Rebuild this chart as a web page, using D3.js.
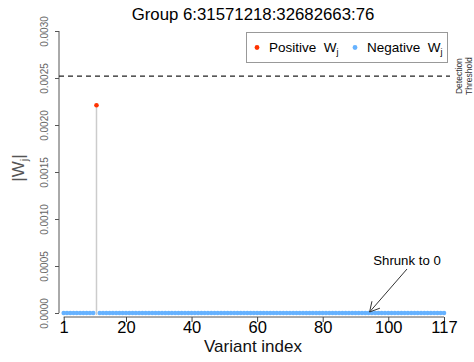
<!DOCTYPE html>
<html>
<head>
<meta charset="utf-8">
<script src="https://cdn.jsdelivr.net/npm/d3@7"></script>
<style>
  html, body { margin: 0; padding: 0; background: #fff; }
  svg { display: block; font-family: "Liberation Sans", Arial, Helvetica, sans-serif; }
</style>
</head>
<body>
<svg id="chart" width="474" height="362"></svg>
<script>
// |W_j| statistic for each of the 117 variants in the group
const absW = [
  0, 0, 0, 0, 0, 0, 0, 0, 0, 0,
  0.00221, 0, 0, 0, 0, 0, 0, 0, 0, 0,
  0, 0, 0, 0, 0, 0, 0, 0, 0, 0,
  0, 0, 0, 0, 0, 0, 0, 0, 0, 0,
  0, 0, 0, 0, 0, 0, 0, 0, 0, 0,
  0, 0, 0, 0, 0, 0, 0, 0, 0, 0,
  0, 0, 0, 0, 0, 0, 0, 0, 0, 0,
  0, 0, 0, 0, 0, 0, 0, 0, 0, 0,
  0, 0, 0, 0, 0, 0, 0, 0, 0, 0,
  0, 0, 0, 0, 0, 0, 0, 0, 0, 0,
  0, 0, 0, 0, 0, 0, 0, 0, 0, 0,
  0, 0, 0, 0, 0, 0, 0
];
// variants whose W_j is positive (all others negative / zero)
const positiveIdx = [11];
const threshold = 0.00252;
const xTicks = [1, 20, 40, 60, 80, 100, 117];
const yTicks = [0, 0.0005, 0.001, 0.0015, 0.002, 0.0025, 0.003];
const titleText = "Group 6:31571218:32682663:76";
const shrunkIndex = 94;

const colPos = "#ff3300";
const colNeg = "#66b2ff";

const svg = d3.select("#chart");
const x = d3.scaleLinear().domain([1, 117]).range([63.7, 444]);
const y = d3.scaleLinear().domain([0, 0.003]).range([313, 31]);
const axisY = 317;

const data = absW.map((v, i) => ({ idx: i + 1, v, pos: positiveIdx.includes(i + 1) }));

// title
svg.append("text").attr("x", 253).attr("y", 20).attr("text-anchor", "middle")
  .attr("font-size", 16.8).attr("fill", "#000").text(titleText);

// y axis
const gy = svg.append("g").attr("transform", "translate(59,0)")
  .call(d3.axisLeft(y).tickValues(yTicks).tickSize(4).tickFormat(d3.format(".4f")));
gy.select(".domain").attr("stroke", "#555").attr("d", `M-0,${y(0)}V${y(0.003)}`);
gy.selectAll(".tick line").attr("stroke", "#555");
gy.selectAll(".tick text")
  .attr("x", null).attr("dy", null).attr("font-size", 10).attr("fill", "#666")
  .attr("font-family", "Liberation Sans, Arial, sans-serif")
  .attr("text-anchor", "middle")
  .attr("transform", "translate(-11,0) rotate(-90)");

// x axis
const gx = svg.append("g").attr("transform", `translate(0,${axisY})`)
  .call(d3.axisBottom(x).tickValues(xTicks).tickSize(5).tickFormat(d3.format("d")));
gx.select(".domain").attr("stroke", "#555").attr("d", `M${x(1)},0H${x(117)}`);
gx.selectAll(".tick line").attr("stroke", "#444");
gx.selectAll(".tick text").attr("y", 16).attr("dy", null).attr("font-size", 16.5)
  .attr("fill", "#000").attr("font-family", "Liberation Sans, Arial, sans-serif");

// axis titles
svg.append("text").attr("x", 253).attr("y", 352).attr("text-anchor", "middle")
  .attr("font-size", 17).attr("fill", "#111").text("Variant index");
const yl = svg.append("text").attr("transform", "translate(24,168) rotate(-90)")
  .attr("text-anchor", "middle").attr("font-size", 17).attr("fill", "#555");
yl.append("tspan").text("|W");
yl.append("tspan").attr("font-size", 11).attr("dy", 4).text("j");
yl.append("tspan").attr("dy", -4).text("|");

// detection threshold
svg.append("line").attr("x1", 59).attr("x2", 450)
  .attr("y1", y(threshold)).attr("y2", y(threshold))
  .attr("stroke", "#222").attr("stroke-width", 1.1).attr("stroke-dasharray", "5,4");
const dt = svg.append("text").attr("transform", `translate(462,${y(threshold)}) rotate(-90)`)
  .attr("text-anchor", "middle").attr("font-size", 8.5).attr("fill", "#333");
dt.append("tspan").attr("x", 0).attr("y", 0).text("Detection");
dt.append("tspan").attr("x", 0).attr("y", 10).text("Threshold");

// stems for non-zero values
svg.append("g").selectAll("line").data(data.filter(d => d.v > 0)).join("line")
  .attr("x1", d => x(d.idx)).attr("x2", d => x(d.idx))
  .attr("y1", d => y(d.v)).attr("y2", axisY - 2)
  .attr("stroke", "#cccccc").attr("stroke-width", 1.5);

// points
svg.append("g").selectAll("circle").data(data).join("circle")
  .attr("cx", d => x(d.idx)).attr("cy", d => y(d.v)).attr("r", 2.3)
  .attr("fill", d => d.pos ? colPos : colNeg);

// legend
const lg = svg.append("g");
lg.append("rect").attr("x", 246.5).attr("y", 32.5).attr("width", 201).attr("height", 30)
  .attr("fill", "#fff").attr("stroke", "#999");
const items = [
  { label: "Positive", col: colPos, cx: 257, tx: 269 },
  { label: "Negative", col: colNeg, cx: 355, tx: 367 }
];
items.forEach(it => {
  lg.append("circle").attr("cx", it.cx).attr("cy", 47.5).attr("r", 2.4).attr("fill", it.col);
  const t = lg.append("text").attr("x", it.tx).attr("y", 52).attr("font-size", 13.5).attr("fill", "#000");
  t.append("tspan").text(it.label + "\u00a0\u00a0W");
  t.append("tspan").attr("font-size", 9).attr("dy", 3).text("j");
});

// annotation arrow
const ax0 = 407, ay0 = 269, ax1 = x(shrunkIndex) + 1, ay1 = y(0) - 1;
svg.append("text").attr("x", 407).attr("y", 265).attr("text-anchor", "middle")
  .attr("font-size", 13.2).attr("fill", "#000").text("Shrunk to 0");
svg.append("line").attr("x1", ax0).attr("y1", ay0).attr("x2", ax1).attr("y2", ay1)
  .attr("stroke", "#333").attr("stroke-width", 1);
const ang = Math.atan2(ay0 - ay1, ax0 - ax1);
[-0.5, 0.5].forEach(da => {
  svg.append("line").attr("x1", ax1).attr("y1", ay1)
    .attr("x2", ax1 + 11 * Math.cos(ang + da)).attr("y2", ay1 + 11 * Math.sin(ang + da))
    .attr("stroke", "#333").attr("stroke-width", 1);
});
</script>
</body>
</html>
